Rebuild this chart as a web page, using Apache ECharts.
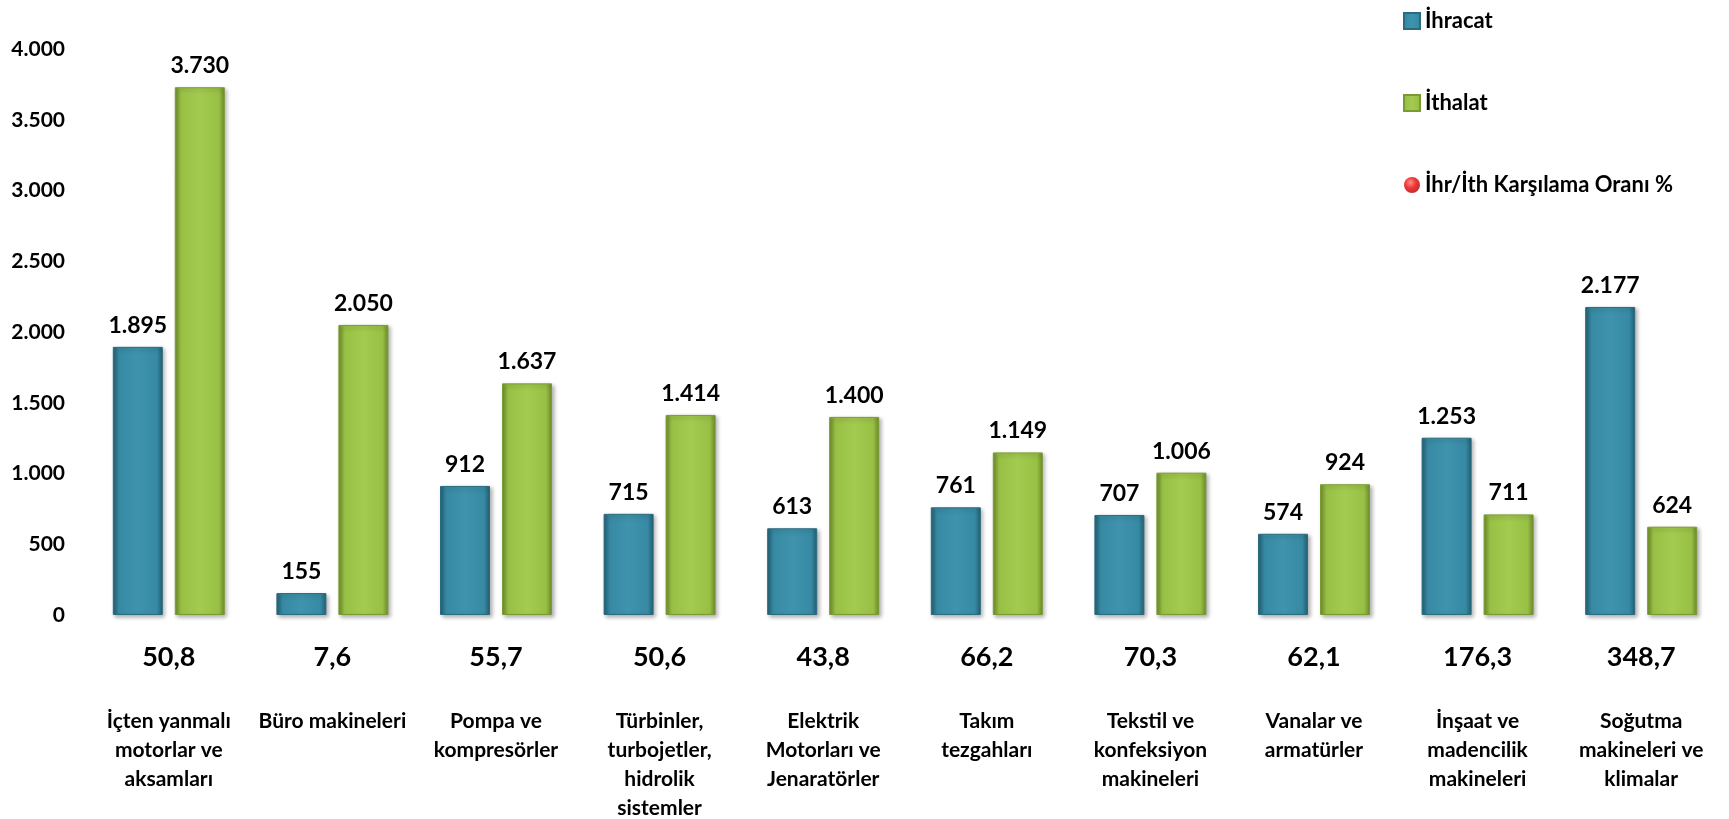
<!DOCTYPE html>
<html>
<head>
<meta charset="utf-8">
<title>İhracat / İthalat</title>
<script src="https://cdn.jsdelivr.net/npm/echarts@6/dist/echarts.min.js"></script>
<style>
  html, body { margin: 0; padding: 0; background: #fff; }
  #chart { width: 1729px; height: 819px; }
</style>
</head>
<body>
<div id="chart"></div>
<script>
// kategoriler (satır sonları etikette kullanılıyor)
var kategoriler = [
    'İçten yanmalı\nmotorlar ve\naksamları',
    'Büro makineleri',
    'Pompa ve\nkompresörler',
    'Türbinler,\nturbojetler,\nhidrolik\nsistemler',
    'Elektrik\nMotorları ve\nJenaratörler',
    'Takım\ntezgahları',
    'Tekstil ve\nkonfeksiyon\nmakineleri',
    'Vanalar ve\narmatürler',
    'İnşaat ve\nmadencilik\nmakineleri',
    'Soğutma\nmakineleri ve\nklimalar'
];
var ihracat = [1895, 155, 912, 715, 613, 761, 707, 574, 1253, 2177];
var ithalat = [3730, 2050, 1637, 1414, 1400, 1149, 1006, 924, 711, 624];
var oran = [50.8, 7.6, 55.7, 50.6, 43.8, 66.2, 70.3, 62.1, 176.3, 348.7];
var yTicks = [0, 500, 1000, 1500, 2000, 2500, 3000, 3500, 4000];

var FONT = 'Lato, "Open Sans", sans-serif';

// 1895 -> "1.895"
function binlik(v) {
    return String(v).replace(/\B(?=(\d{3})+(?!\d))/g, '.');
}
// 50.8 -> "50,8"
function virgul(v) {
    return v.toFixed(1).replace('.', ',');
}

function barRenk(kenar, orta, acik) {
    return new echarts.graphic.LinearGradient(0, 0, 1, 0, [
        { offset: 0, color: kenar },
        { offset: 0.12, color: orta },
        { offset: 0.5, color: acik },
        { offset: 0.88, color: orta },
        { offset: 1, color: kenar }
    ]);
}

var kirmizi = new echarts.graphic.RadialGradient(0.4, 0.35, 0.7, [
    { offset: 0, color: '#ff7070' },
    { offset: 0.5, color: '#f00000' },
    { offset: 1, color: '#a00000' }
]);

var chart = echarts.init(document.getElementById('chart'));

var option = {
    animation: false,
    textStyle: { fontFamily: FONT },
    legend: {
        orient: 'vertical',
        left: 1398,
        top: 5,
        itemWidth: 16,
        itemHeight: 16,
        itemGap: 60,
        textStyle: { fontFamily: FONT, fontWeight: 'bold', fontSize: 22, color: '#000' },
        data: [
            { name: 'İhracat', icon: 'rect' },
            { name: 'İthalat', icon: 'rect' },
            { name: 'İhr/İth Karşılama Oranı %', icon: 'circle', itemStyle: { color: kirmizi } }
        ]
    },
    grid: { left: 87, right: 6, top: 49, bottom: 203 },
    xAxis: {
        type: 'category',
        data: kategoriler,
        axisLine: { show: false },
        axisTick: { show: false },
        axisLabel: {
            interval: 0,
            margin: 20,
            formatter: function (deger, i) {
                var satirlar = deger.split('\n').map(function (s) { return '{c|' + s + '}'; });
                return '{p|' + virgul(oran[i]) + '}\n{g| }\n' + satirlar.join('\n');
            },
            rich: {
                p: { fontFamily: FONT, fontWeight: 'bold', fontSize: 27, lineHeight: 44, color: '#000' },
                g: { fontSize: 10, lineHeight: 28 },
                c: { fontFamily: FONT, fontWeight: 'bold', fontSize: 21, lineHeight: 29, color: '#000' }
            }
        }
    },
    yAxis: [{
        type: 'value',
        min: yTicks[0],
        max: yTicks[yTicks.length - 1],
        interval: 500,
        splitLine: { show: false },
        axisLine: { show: false },
        axisTick: { show: false },
        axisLabel: {
            margin: 22,
            fontFamily: FONT, fontWeight: 'bold', fontSize: 21, color: '#000',
            formatter: function (v) { return binlik(v); }
        }
    }, {
        type: 'value',
        show: false,
        min: 0,
        max: 400
    }],
    series: [{
        name: 'İhracat',
        type: 'bar',
        barWidth: 50,
        barGap: '24%',
        data: ihracat,
        itemStyle: {
            color: barRenk('#225e72', '#378aa3', '#3f93ac'),
            borderColor: '#2a6b80',
            borderWidth: 1,
            shadowColor: 'rgba(0,0,0,0.3)',
            shadowBlur: 4,
            shadowOffsetX: 2,
            shadowOffsetY: 2
        },
        label: {
            show: true,
            position: 'top',
            distance: 10,
            fontFamily: FONT, fontWeight: 'bold', fontSize: 23, color: '#000',
            formatter: function (p) { return binlik(p.value); }
        }
    }, {
        name: 'İthalat',
        type: 'bar',
        barWidth: 50,
        data: ithalat,
        itemStyle: {
            color: barRenk('#6c8a2a', '#98c045', '#a3cb50'),
            borderColor: '#7a9b34',
            borderWidth: 1,
            shadowColor: 'rgba(0,0,0,0.3)',
            shadowBlur: 4,
            shadowOffsetX: 2,
            shadowOffsetY: 2
        },
        label: {
            show: true,
            position: 'top',
            distance: 10,
            fontFamily: FONT, fontWeight: 'bold', fontSize: 23, color: '#000',
            formatter: function (p) { return binlik(p.value); }
        }
    }, {
        // oran değerleri eksen etiketinde yazılıyor, işaretler gizli
        name: 'İhr/İth Karşılama Oranı %',
        type: 'scatter',
        yAxisIndex: 1,
        data: oran,
        symbolSize: 0,
        silent: true,
        itemStyle: { color: kirmizi }
    }]
};

chart.setOption(option);
</script>
</body>
</html>
